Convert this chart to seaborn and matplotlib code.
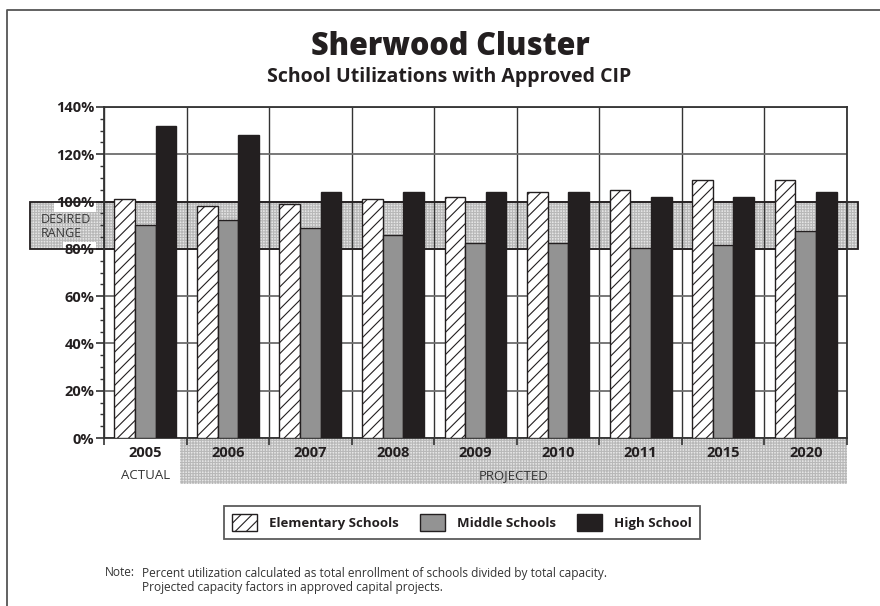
import matplotlib
matplotlib.use("Agg")
import matplotlib.pyplot as plt
import seaborn as sns
import pandas as pd
import numpy as np
from matplotlib.patches import Rectangle, Patch
from matplotlib.lines import Line2D
from matplotlib.ticker import FixedLocator, MultipleLocator
from matplotlib.transforms import blended_transform_factory

# ---- data -------------------------------------------------------------
years = ["2005", "2006", "2007", "2008", "2009", "2010", "2011", "2015", "2020"]
elementary = [101, 98, 99, 101, 102, 104, 105, 109, 109]
middle = [90, 92, 89, 86, 82.5, 82.5, 80.5, 81.5, 87.5]
high = [132, 128, 104, 104, 104, 104, 102, 102, 104]
series_names = ["Elementary Schools", "Middle Schools", "High School"]
y_ticks = [0, 20, 40, 60, 80, 100, 120, 140]
desired_range = (80, 100)

# ---- style ------------------------------------------------------------
sns.set_theme(style="white")
plt.rcParams["font.family"] = ["Open Sans", "DejaVu Sans"]
plt.rcParams["hatch.linewidth"] = 0.8

INK = "#231f20"
colors = {"Elementary Schools": "white", "Middle Schools": "#939393", "High School": INK}
STIPPLE_FACE = "#e6e6e6"
STIPPLE_DOTS = "#b8b8b8"

df = pd.DataFrame({
    "Year": years * 3,
    "Utilization": elementary + middle + high,
    "School": np.repeat(series_names, len(years)),
})

fig = plt.figure(figsize=(8.8, 6.06), dpi=100)
ax = fig.add_axes([104 / 880, 1 - 438 / 606, 743 / 880, 331 / 606])

sns.barplot(data=df, x="Year", y="Utilization", hue="School", order=years,
            hue_order=series_names, palette=colors, saturation=1,
            width=0.75, gap=0, edgecolor=INK, linewidth=1.0,
            legend=False, ax=ax, zorder=3, errorbar=None)
for bar in ax.containers[0]:
    bar.set_hatch("///")

ax.set_xlim(-0.5, len(years) - 0.5)
ax.set_ylim(0, 140)
ax.set_xlabel("")
ax.set_ylabel("")

# y axis: bold percent labels, major + minor ticks pointing out
ax.set_yticks(y_ticks)
ax.set_yticklabels([f"{t}%" for t in y_ticks], fontweight="bold", fontsize=10.5, color=INK)
ax.yaxis.set_minor_locator(MultipleLocator(5))
ax.tick_params(axis="y", which="major", direction="out", length=6, width=1.2,
               color="#333333", pad=1, left=True)
ax.tick_params(axis="y", which="minor", direction="out", length=3, width=1.0,
               color="#333333", left=True)

# x axis: labels at centres, tick marks at category boundaries
ax.set_xticks(range(len(years)))
ax.set_xticklabels(years, fontweight="bold", fontsize=10.5, color=INK)
ax.xaxis.set_minor_locator(FixedLocator(np.arange(-0.5, len(years), 1.0)))
ax.tick_params(axis="x", which="major", length=0, pad=6)
ax.tick_params(axis="x", which="minor", direction="out", length=5, width=1.2,
               color="#333333", bottom=True)

ax.set_axisbelow(True)
ax.grid(False)
ax.grid(axis="y", which="major", color="#6d6d6d", linewidth=1.3)
ax.grid(axis="x", which="minor", color="#333333", linewidth=1.0)
for s in ax.spines.values():
    s.set_color("#333333")
    s.set_linewidth(1.3)

# desired-range band, running past both sides of the plot
band_tf = blended_transform_factory(ax.transAxes, ax.transData)
bx0, bx1 = -0.0996, 1.0148
lo, hi = desired_range
ax.add_patch(Rectangle((bx0, lo), bx1 - bx0, hi - lo, transform=band_tf,
                       facecolor=STIPPLE_FACE, edgecolor="none", clip_on=False, zorder=0.3))
ax.add_patch(Rectangle((bx0, lo), bx1 - bx0, hi - lo, transform=band_tf,
                       facecolor="none", edgecolor=STIPPLE_DOTS, hatch="++++++",
                       linewidth=0, clip_on=False, zorder=0.35))
ax.add_patch(Rectangle((bx0, lo), bx1 - bx0, hi - lo, transform=band_tf,
                       facecolor="none", edgecolor=INK, linewidth=1.3,
                       clip_on=False, zorder=0.6))
ax.text(-0.0848, 89.5, "DESIRED\nRANGE", transform=band_tf, ha="left", va="center",
        fontsize=9, color="#3a3a3a", linespacing=1.15)

for lbl in ax.get_yticklabels():
    if lbl.get_text() in ("80%", "100%"):
        lbl.set_bbox(dict(facecolor="white", edgecolor="none", pad=1.0))

# shaded strip under the projected years
strip_tf = blended_transform_factory(ax.transData, ax.transAxes)
sx0, sx1, sh = 0.415, len(years) - 0.5, 0.138
ax.add_patch(Rectangle((sx0, -sh), sx1 - sx0, sh, transform=strip_tf,
                       facecolor=STIPPLE_FACE, edgecolor="none", clip_on=False, zorder=0.3))
ax.add_patch(Rectangle((sx0, -sh), sx1 - sx0, sh, transform=strip_tf,
                       facecolor="none", edgecolor=STIPPLE_DOTS, hatch="++++++",
                       linewidth=0, clip_on=False, zorder=0.35))
ax.text(0, -0.112, "ACTUAL", transform=strip_tf, ha="center", va="center",
        fontsize=9.5, color="#333333")
ax.text((sx0 + sx1) / 2, -0.112, "PROJECTED", transform=strip_tf, ha="center",
        va="center", fontsize=9.5, color="#333333")

# titles
fig.text(450 / 880, 1 - 47 / 606, "Sherwood Cluster", ha="center", va="center",
         fontsize=22, fontweight="heavy", color=INK)
fig.text(449 / 880, 1 - 77 / 606, "School Utilizations with Approved CIP",
         ha="center", va="center", fontsize=14, fontweight="bold", color=INK)

# legend
handles = [Patch(facecolor=colors[n], edgecolor=INK, hatch="///" if i == 0 else None,
                 linewidth=1.0) for i, n in enumerate(series_names)]
leg = fig.legend(handles, series_names, loc="center",
                 bbox_to_anchor=(462 / 880, 1 - 522.5 / 606), ncol=3,
                 frameon=True, fancybox=False, edgecolor="#333333",
                 prop={"weight": "bold", "size": 9.5}, handlelength=1.9,
                 handleheight=1.7, handletextpad=0.9, columnspacing=1.6,
                 borderpad=0.6)
leg.get_frame().set_linewidth(1.3)
for t in leg.get_texts():
    t.set_color(INK)

# footnote
fig.text(105 / 880, 1 - 573 / 606, "Note:", fontsize=8.6, va="center", color="#333333")
fig.text(142 / 880, 1 - 573 / 606,
         "Percent utilization calculated as total enrollment of schools divided by total capacity.",
         fontsize=8.6, va="center", color="#333333")
fig.text(142 / 880, 1 - 588 / 606, "Projected capacity factors in approved capital projects.",
         fontsize=8.6, va="center", color="#333333")

# page border along the top and left
fig.add_artist(Line2D([7 / 880, 7 / 880, 1.0], [0.0, 1 - 10 / 606, 1 - 10 / 606],
                      transform=fig.transFigure, color="#555555", linewidth=1.3))

fig.savefig("out.png", dpi=100)
